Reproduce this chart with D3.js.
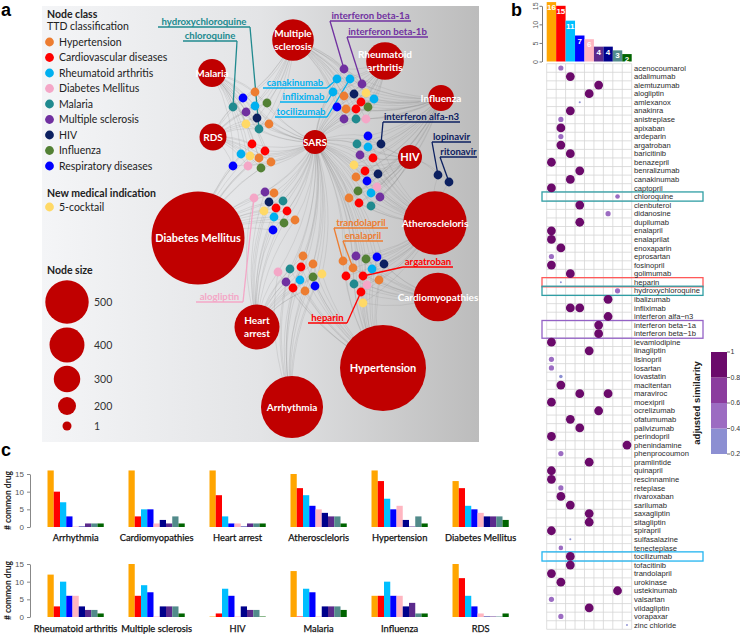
<!DOCTYPE html>
<html><head><meta charset="utf-8">
<script src="https://cdn.jsdelivr.net/npm/d3@7"></script>
<style>
body{margin:0;background:#fff;}
svg{display:block;font-family:Lato,"Open Sans",sans-serif;}
</style></head><body>
<svg id="chart" width="740" height="634"></svg>
<script>
// ================= DATA =================
// Panel a : node classes
const classKeys   = ["HT","CV","RA","DM","MA","MS","HIV","IN","RE","CK"];
const classNames  = ["Hypertension","Cardiovascular diseases","Rheumatoid arthritis","Diabetes Mellitus","Malaria","Multiple sclerosis","HIV","Influenza","Respiratory diseases","5-cocktail"];
const classColors = ["#ed7d31","#ff0000","#00b0f0","#f4a7c7","#208a8f","#7030a0","#0c2060","#538135","#0000ff","#ffd966"];

// Panel a : disease nodes (layout units inside panel a)
const diseaseNames  = ["Malaria","RDS","Multiple sclerosis","Rheumatoid arthritis","Influenza","SARS","HIV","Atheroscleloris","Diabetes Mellitus","Heart arrest","Arrhythmia","Hypertension","Cardiomyopathies"];
const diseaseLabels = [["Malaria"],["RDS"],["Multiple","sclerosis"],["Rheumatoid","arthritis"],["Influenza"],["SARS"],["HIV"],["Atheroscleloris"],["Diabetes Mellitus"],["Heart","arrest"],["Arrhythmia"],["Hypertension"],["Cardiomyopathies"]];
const diseaseSize   = [318,306,479,432,294,271,271,736,1086,519,720,1003,561];
const diseaseLayout = [[170,67],[171,131],[251,34],[343,55],[399,92],[273,136],[368,151],[393,217],[156,232],[215,321],[250,401],[341,362],[396,291]];
const sizeLegend    = [500,400,300,200,1];

// Panel a : drug nodes [cluster, class, layoutX, layoutY]
const drugNodes = [
 [1,"MA",191,101],[1,"RE",201,92],[1,"HT",213,86],[1,"RA",213,100],[1,"IN",225,97],[1,"MS",204,106],[1,"HIV",215,112],[1,"CK",204,118],[1,"MA",217,123],[1,"HT",227,118],
 [2,"CV",210,138],[2,"CV",223,145],[2,"RA",199,148],[2,"CK",208,150],[2,"HT",217,152],[2,"HT",229,156],[2,"RE",191,160],[2,"DM",206,160],[2,"IN",219,162],
 [3,"MS",302,63],[3,"RA",295,73],[3,"RA",308,73],[3,"MS",320,78],[3,"RA",291,86],[3,"HIV",312,88],[3,"CK",324,87],[3,"HT",302,90],[3,"CV",319,96],[3,"RA",332,93],[3,"RE",295,101],[3,"HT",304,103],[3,"CV",314,103],[3,"IN",326,101],[3,"MS",302,113],[3,"MA",314,113],[3,"DM",324,113],
 [4,"RE",326,130],[4,"HIV",339,138],[4,"MA",315,138],[4,"RA",326,141],[4,"MS",318,149],[4,"CV",331,152],[4,"CK",312,159],[4,"CV",323,165],[4,"HIV",336,168],[4,"HT",314,171],[4,"RE",325,175],[4,"DM",335,181],[4,"IN",316,185],[4,"RA",329,187],[4,"MS",338,191],[4,"HT",307,192],[4,"CV",317,197],[4,"MA",329,200],
 [8,"HIV",396,169],[8,"HIV",407,176],
 [5,"MS",223,186],[5,"HT",232,187],[5,"DM",212,192],[5,"HIV",227,196],[5,"MA",241,195],[5,"CV",234,202],[5,"CV",245,205],[5,"CK",222,205],[5,"RA",232,211],[5,"IN",242,217],[5,"HT",253,214],[5,"RE",231,224],
 [6,"HT",261,250],[6,"HT",271,258],[6,"DM",236,266],[6,"MA",248,263],[6,"CV",259,261],[6,"CK",280,268],[6,"MS",244,276],[6,"RA",258,274],[6,"IN",271,271],[6,"RE",273,280],[6,"CV",251,282],[6,"HT",263,285],
 [7,"HT",301,255],[7,"MS",314,250],[7,"IN",324,253],[7,"RE",335,251],[7,"HIV",342,258],[7,"HT",311,262],[7,"RA",330,263],[7,"CV",304,270],[7,"CV",321,270],[7,"HT",337,274],[7,"MA",312,278],[7,"DM",325,279],[7,"CV",319,286],[7,"CK",321,297]
];
const clusterTargets = [[],
 ["Malaria","SARS","Multiple sclerosis","RDS"],
 ["RDS","SARS","Malaria","Diabetes Mellitus"],
 ["Multiple sclerosis","Rheumatoid arthritis","Influenza","SARS"],
 ["SARS","HIV","Influenza","Atheroscleloris"],
 ["Diabetes Mellitus","SARS","Heart arrest"],
 ["Heart arrest","Arrhythmia","SARS","Hypertension"],
 ["Hypertension","Cardiomyopathies","Atheroscleloris","SARS"],
 ["HIV","Atheroscleloris"]
];

// Panel a : annotated drugs
const annotLabels = ["hydroxychloroquine","chloroquine","interferon beta-1a","interferon beta-1b","canakinumab","infliximab","tocilizumab","interferon alfa-n3","lopinavir","ritonavir","trandolapril","enalapril","argatroban","heparin","alogliptin"];
const annotNode   = [8,0,19,22,20,23,21,37,54,55,80,85,88,92,58];
const annotClass  = ["MA","MA","MS","MS","RA","RA","RA","HIV","HIV","HIV","HT","HT","CV","CV","DM"];
const annotLayout = [[116,208,21],[141,195,35],[288,369,15],[305,386,31],[221,285,82],[238,285,96],[233,285,111],[341,418,116],[390,429,136],[398,435,151],[292,346,222],[301,341,235],[361,411,261],[266,305,317],[154,201,296]];
const annotSide   = ["R","R","L","L","R","R","R","L","L","L","L","L","L","R","R"];

// Panel b
const ttdCols   = ["Hypertension","Cardiovascular","Rheumatoid arthritis","Respiratory","Diabetes Mellitus","Multiple sclerosis","HIV","Malaria","Influenza"];
const ttdCounts = [16,15,11,7,6,4,4,3,2];
const ttdColors = ["#ffa500","#ff0000","#00bfff","#0000ff","#ffb6c1","#5b2a8c","#00008b","#528b8b","#006400"];
const matrixDrugs = ["acenocoumarol","adalimumab","alemtuzumab","alogliptin","amlexanox","anakinra","anistreplase","apixaban","ardeparin","argatroban","baricitinib","benazepril","benralizumab","canakinumab","captopril","chloroquine","clenbuterol","didanosine","dupilumab","enalapril","enalaprilat","enoxaparin","eprosartan","fosinopril","golimumab","heparin","hydroxychloroquine","ibalizumab","infliximab","interferon alfa\u2212n3","interferon beta\u22121a","interferon beta\u22121b","levamlodipine","linagliptin","lisinopril","losartan","lovastatin","macitentan","maraviroc","moexipril","ocrelizumab","ofatumumab","palivizumab","perindopril","phenindamine","phenprocoumon","pramlintide","quinapril","rescinnamine","reteplase","rivaroxaban","sarilumab","saxagliptin","sitagliptin","spirapril","sulfasalazine","tenecteplase","tocilizumab","tofacitinib","trandolapril","urokinase","ustekinumab","valsartan","vildagliptin","vorapaxar","zinc chloride"];
const matrixHits = [
 ["acenocoumarol",1,0.5],["adalimumab",2,1],["alemtuzumab",5,1],["alogliptin",4,1],["amlexanox",3,0.24],["anakinra",2,1],["anistreplase",1,0.5],["apixaban",1,1],["ardeparin",1,0.5],["argatroban",1,1],
 ["baricitinib",2,1],["benazepril",0,1],["benralizumab",3,1],["canakinumab",2,1],["captopril",0,1],["chloroquine",7,0.45],["clenbuterol",3,1],["didanosine",6,0.5],["dupilumab",3,1],["enalapril",0,1],
 ["enalaprilat",0,1],["enoxaparin",1,1],["eprosartan",0,0.5],["fosinopril",0,1],["golimumab",2,1],["heparin",1,0.22],["hydroxychloroquine",7,0.5],["ibalizumab",6,1],["infliximab",2,1],["infliximab",3,1],
 ["interferon alfa\u2212n3",6,1],["interferon beta\u22121a",5,1],["interferon beta\u22121b",5,1],["levamlodipine",0,1],["linagliptin",4,1],["lisinopril",0,0.5],["losartan",0,0.5],["lovastatin",1,0.36],["macitentan",1,1],["maraviroc",3,1],["maraviroc",6,1],
 ["moexipril",0,1],["ocrelizumab",5,1],["ofatumumab",2,1],["palivizumab",3,1],["perindopril",0,1],["phenindamine",8,1],["phenprocoumon",1,0.5],["pramlintide",4,1],["quinapril",0,1],["rescinnamine",0,1],
 ["reteplase",1,0.5],["rivaroxaban",1,1],["sarilumab",2,1],["saxagliptin",4,1],["sitagliptin",4,1],["spirapril",0,1],["sulfasalazine",2,0.24],["tenecteplase",1,0.45],["tocilizumab",2,1],["tofacitinib",2,1],
 ["trandolapril",0,1],["urokinase",1,1],["ustekinumab",7,1],["valsartan",0,0.5],["vildagliptin",4,1],["vorapaxar",1,0.5],["zinc chloride",8,0.22]
];
const highlightRows   = [["chloroquine","chloroquine"],["heparin","heparin"],["hydroxychloroquine","hydroxychloroquine"],["interferon beta\u22121a","interferon beta\u22121b"],["tocilizumab","tocilizumab"]];
const highlightColors = ["#2f9ea4","#ff5a5a","#2f9ea4","#9462c6","#22b4f0"];
const simTicks  = [0.2,0.4,0.6,0.8,1];
const simColors = ["#8c8fd2","#9c6cc2","#8b3c9e","#6b0a6b"];

// Panel c
const cSeriesColors = ["#ffa500","#ff0000","#00bfff","#0000ff","#ffb6c1","#00008b","#5b2a8c","#528b8b","#006400"];
const cArrhythmia      = [16,10,7,3,0,0,1,1,1];
const cCardiomyopathies= [16,3,5,5,1,2,1,3,1];
const cHeartArrest     = [16,9,3,1,1,0,1,1,1];
const cAtherosclerosis = [15,11,9,6,5,4,3,3,1];
const cHypertension    = [16,13,8,5,6,2,0,3,1];
const cDiabetes        = [13,11,6,5,4,3,3,3,2];
const cRheumatoid      = [12,3,10,6,6,3,2,2,1];
const cMultipleSclerosis=[15,6,9,7,0,3,3,3,1];
const cHIV             = [0,1,8,6,0,3,2,2,0];
const cMalaria         = [13,0,8,7,0,3,3,3,2];
const cInfluenza       = [6,6,10,6,6,3,4,1,1];
const cRDS             = [15,11,6,3,1,0,0,0,1];
const cCharts = [
 ["Arrhythmia",cArrhythmia],["Cardiomyopathies",cCardiomyopathies],["Heart arrest",cHeartArrest],["Atheroscleloris",cAtherosclerosis],["Hypertension",cHypertension],["Diabetes Mellitus",cDiabetes],
 ["Rheumatoid arthritis",cRheumatoid],["Multiple sclerosis",cMultipleSclerosis],["HIV",cHIV],["Malaria",cMalaria],["Influenza",cInfluenza],["RDS",cRDS]
];
const cTicks = [0,5,10,15];

// ================= DRAW =================
const svg = d3.select("#chart");
const colorOf = k => classColors[classKeys.indexOf(k)];

// panel letters
svg.append("g").attr("font-family","Liberation Sans, Arial").attr("font-weight","bold").attr("font-size",18)
  .selectAll("text").data([["a",1,16],["b",511,16],["c",1,456]]).join("text")
  .attr("x",d=>d[1]).attr("y",d=>d[2]).text(d=>d[0]);

// ---------- Panel a ----------
const xA = d3.scaleLinear().domain([0,437]).range([42,479]);
const yA = d3.scaleLinear().domain([0,436]).range([6,442]);
const rA = d3.scaleLinear().domain([1,200,500]).range([4.5,9,21.7]);

const defs = svg.append("defs");
const grad = defs.append("linearGradient").attr("id","bgA").attr("x1","0%").attr("x2","100%").attr("y1","0%").attr("y2","0%");
grad.append("stop").attr("offset","0%").attr("stop-color","#f4f5f7");
grad.append("stop").attr("offset","50%").attr("stop-color","#e3e4e6");
grad.append("stop").attr("offset","100%").attr("stop-color","#bcbcbc");
svg.append("rect").attr("x",xA(0)).attr("y",yA(0)).attr("width",xA(437)-xA(0)).attr("height",yA(436)-yA(0)).attr("fill","url(#bgA)");

// edges
const gE = svg.append("g").attr("fill","none").attr("stroke","#8a8a8a").attr("stroke-width",0.45).attr("stroke-opacity",0.45);
drugNodes.forEach(([c,k,x,y]) => {
  clusterTargets[c].forEach(t => {
    const [dx,dy] = diseaseLayout[diseaseNames.indexOf(t)];
    const x1=xA(x), y1=yA(y), x2=xA(dx), y2=yA(dy);
    const mx=(x1+x2)/2, my=(y1+y2)/2, vx=x2-x1, vy=y2-y1;
    const p = d3.path(); p.moveTo(x1,y1); p.quadraticCurveTo(mx - vy*0.14, my + vx*0.14, x2, y2);
    gE.append("path").attr("d",p.toString());
  });
});

// disease nodes
svg.append("g").selectAll("circle").data(diseaseNames).join("circle")
  .attr("cx",(d,i)=>xA(diseaseLayout[i][0])).attr("cy",(d,i)=>yA(diseaseLayout[i][1]))
  .attr("r",(d,i)=>rA(diseaseSize[i])).attr("fill","#c00000");

// annotation lines
const gAn = svg.append("g");
annotLabels.forEach((lab,i)=>{
  const [x0,x1,uy] = annotLayout[i];
  const node = drugNodes[annotNode[i]];
  const col = colorOf(annotClass[i]);
  const ex = annotSide[i]==="R" ? x1 : x0;
  gAn.append("polyline").attr("points",[[xA(x0),yA(uy)],[xA(x1),yA(uy)]].join(" ")).attr("stroke",col).attr("stroke-width",1.3).attr("fill","none");
  gAn.append("line").attr("x1",xA(ex)).attr("y1",yA(uy)).attr("x2",xA(node[2])).attr("y2",yA(node[3])).attr("stroke",col).attr("stroke-width",1.3);
});

// drug nodes
svg.append("g").selectAll("circle").data(drugNodes).join("circle")
  .attr("cx",d=>xA(d[2])).attr("cy",d=>yA(d[3])).attr("r",4.4).attr("fill",d=>colorOf(d[1]));

// disease labels
const gDL = svg.append("g").attr("fill","#fff").attr("font-weight","bold").attr("text-anchor","middle");
diseaseNames.forEach((d,i)=>{
  const lines = diseaseLabels[i];
  const r = rA(diseaseSize[i]);
  const fs = r>40 ? 11 : (d==="HIV" ? 11 : 10);
  const t = gDL.append("text").attr("font-size",fs);
  lines.forEach((l,j)=>{
    t.append("tspan").attr("x",xA(diseaseLayout[i][0]))
     .attr("y",yA(diseaseLayout[i][1]) + (j-(lines.length-1)/2)*12.5)
     .attr("dy","0.35em").text(l);
  });
});

// annotation text
annotLabels.forEach((lab,i)=>{
  const [x0,x1,uy] = annotLayout[i];
  gAn.append("text").attr("x",(xA(x0)+xA(x1))/2).attr("y",yA(uy)-2.3).attr("text-anchor","middle")
    .attr("font-size",9.6).attr("font-weight","bold").attr("fill",colorOf(annotClass[i])).text(lab);
});

// legend (class)
const gL = svg.append("g").attr("font-size",10.5).attr("fill","#222");
gL.append("text").attr("x",47).attr("y",18).attr("font-weight","bold").text("Node class");
gL.append("text").attr("x",47).attr("y",30).text("TTD classification");
const legY = d3.scaleLinear().domain([0,8]).range([42,166]);
classKeys.slice(0,9).forEach((k,i)=>{
  gL.append("circle").attr("cx",49.5).attr("cy",legY(i)).attr("r",4.4).attr("fill",classColors[i]);
  gL.append("text").attr("x",59).attr("y",legY(i)).attr("dy","0.35em").text(classNames[i]);
});
gL.append("text").attr("x",47).attr("y",197).attr("font-weight","bold").text("New medical indication");
gL.append("circle").attr("cx",49.5).attr("cy",207).attr("r",4.4).attr("fill",classColors[9]);
gL.append("text").attr("x",59).attr("y",207).attr("dy","0.35em").text(classNames[9]);
gL.append("text").attr("x",47).attr("y",274).attr("font-weight","bold").text("Node size");
const sizeY = [302,345,379,406,426];
sizeLegend.forEach((v,i)=>{
  gL.append("circle").attr("cx",67).attr("cy",sizeY[i]).attr("r",rA(v)).attr("fill","#c00000");
  gL.append("text").attr("x",94).attr("y",sizeY[i]).attr("dy","0.35em").attr("fill","#333").text(v);
});

// ---------- Panel b ----------
const gB = svg.append("g").attr("font-family","Liberation Sans, Arial");
const colX = d3.scaleBand().domain(d3.range(9)).range([546.7,631.7]);
const rowY = d3.scaleBand().domain(matrixDrugs).range([63.7,629.3]);
const barY = d3.scaleLinear().domain([0,15]).range([61.5,5.8]);
const bw = colX.bandwidth(), bh = rowY.bandwidth();

gB.append("g").selectAll("rect").data(ttdCounts).join("rect")
  .attr("x",(d,i)=>colX(i)).attr("width",bw).attr("y",d=>barY(d)).attr("height",d=>barY(0)-barY(d))
  .attr("fill",(d,i)=>ttdColors[i]);
gB.append("g").selectAll("text").data(ttdCounts).join("text")
  .attr("x",(d,i)=>colX(i)+bw/2).attr("y",d=>barY(d)+8).attr("text-anchor","middle")
  .attr("font-size",8).attr("font-weight","bold").attr("fill","#fff").text(d=>d);
const axB = gB.append("g").attr("transform","translate(542,0)")
  .call(d3.axisLeft(barY).tickValues([0,5,10,15]).tickSize(2.5).tickSizeOuter(0));
axB.select(".domain").attr("stroke","#777");
axB.selectAll(".tick line").attr("stroke","#777");
axB.selectAll(".tick text").attr("transform","rotate(-90)").attr("x",0).attr("y",-4.5).attr("dy","0")
  .attr("text-anchor","middle").attr("font-size",7).attr("fill","#555");

// grid
const gG = gB.append("g").attr("stroke","#d6d6d6").attr("stroke-width",0.8);
d3.range(10).forEach(i=>{
  const x = i<9 ? colX(i) : colX(8)+bw;
  gG.append("line").attr("x1",x).attr("x2",x).attr("y1",rowY.range()[0]).attr("y2",rowY.range()[1]);
});
matrixDrugs.concat([null]).forEach((d,i)=>{
  const y = d ? rowY(d) : rowY.range()[1];
  gG.append("line").attr("x1",colX(0)).attr("x2",colX(8)+bw).attr("y1",y).attr("y2",y);
});

// highlight boxes
highlightRows.forEach(([a,b],i)=>{
  gB.append("rect").attr("x",542).attr("width",161).attr("y",rowY(a)-0.3).attr("height",rowY(b)+bh-rowY(a)+0.6)
    .attr("fill","none").attr("stroke",highlightColors[i]).attr("stroke-width",1.3);
});

// dots
const simColor = d3.scaleThreshold().domain([0.4,0.6,0.8]).range(simColors);
const simSize  = d3.scaleLinear().domain([0.2,0.5,1]).range([0.8,2.6,4.4]);
gB.append("g").selectAll("circle").data(matrixHits).join("circle")
  .attr("cx",d=>colX(d[1])+bw/2).attr("cy",d=>rowY(d[0])+bh/2)
  .attr("r",d=>simSize(d[2])).attr("fill",d=>simColor(d[2]));

// row labels
gB.append("g").selectAll("text").data(matrixDrugs).join("text")
  .attr("x",634).attr("y",d=>rowY(d)+bh/2).attr("dy","0.35em")
  .attr("font-size",7.6).attr("fill","#2a2a2a").text(d=>d);

// colour bar
const cbY = d3.scaleLinear().domain([0.2,1]).range([454,352]);
simColors.forEach((c,i)=>{
  gB.append("rect").attr("x",711).attr("width",16).attr("y",cbY(simTicks[i+1])).attr("height",cbY(simTicks[i])-cbY(simTicks[i+1])).attr("fill",c);
});
simTicks.forEach(t=>{
  gB.append("line").attr("x1",727).attr("x2",730).attr("y1",cbY(t)).attr("y2",cbY(t)).attr("stroke","#555").attr("stroke-width",0.8);
  gB.append("text").attr("x",730.5).attr("y",cbY(t)).attr("dy","0.35em").attr("font-size",7).attr("fill","#333").text(t);
});
gB.append("text").attr("transform","translate(700,403) rotate(-90)").attr("text-anchor","middle")
  .attr("font-size",9.5).attr("font-weight","bold").attr("fill","#222").text("adjusted similarity");

// ---------- Panel c ----------
const gC = svg.append("g");
const chartX = d3.scaleBand().domain(d3.range(6)).range([47.5, 47.5+6*81-24.75]).paddingInner(0.3056);
const barX = d3.scaleBand().domain(d3.range(9)).range([0, chartX.bandwidth()]);
const rowYs = [d3.scaleLinear().domain([0,15]).range([527,474]), d3.scaleLinear().domain([0,15]).range([617,564])];
const titleY = [541, 632];
cCharts.forEach(([name,vals],k)=>{
  const row = Math.floor(k/6), col = k%6;
  const ys = rowYs[row], x0 = chartX(col);
  gC.append("g").selectAll("rect").data(vals).join("rect")
    .attr("x",(d,i)=>x0+barX(i)).attr("width",barX.bandwidth())
    .attr("y",d=> d>0 ? ys(d) : ys(0)-1).attr("height",d=> d>0 ? ys(0)-ys(d) : 1)
    .attr("fill",(d,i)=>cSeriesColors[i]).attr("fill-opacity",d=>d>0?1:0.45);
  gC.append("text").attr("x",x0+chartX.bandwidth()/2).attr("y",titleY[row]).attr("text-anchor","middle")
    .attr("font-size",9.3).attr("fill","#111").attr("stroke","#111").attr("stroke-width",0.25).text(name);
});
rowYs.forEach((ys,row)=>{
  const ax = gC.append("g").attr("transform","translate(30,0)")
    .call(d3.axisLeft(ys).tickValues(cTicks).tickSize(3).tickSizeOuter(0));
  ax.select(".domain").attr("stroke","#888");
  ax.selectAll(".tick line").attr("stroke","#888");
  ax.selectAll(".tick text").attr("font-size",8).attr("fill","#555").attr("font-family","Liberation Sans, Arial");
  gC.append("text").attr("transform",`translate(11,${(ys(0)+ys(15))/2}) rotate(-90)`).attr("text-anchor","middle")
    .attr("font-size",8.5).attr("font-weight","bold").attr("fill","#222").text("# common drug");
});
</script>
</body></html>
